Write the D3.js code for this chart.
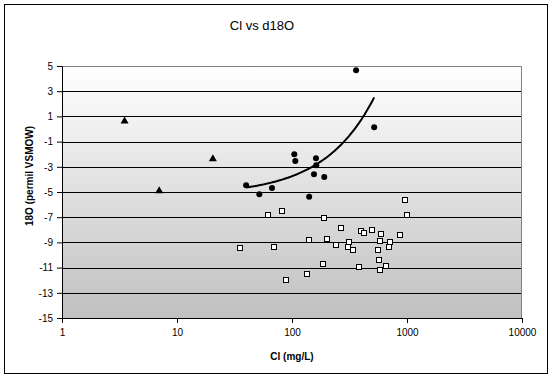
<!DOCTYPE html>
<html>
<head>
<meta charset="utf-8">
<script src="https://cdn.jsdelivr.net/npm/d3@7"></script>
<style>
  body { margin: 0; background: #fff; }
  text { font-family: Arial, "Liberation Sans", sans-serif; fill: #000; }
</style>
</head>
<body>
<svg width="553" height="381"></svg>
<script>
// triangles
let triX = [3.5, 7.0, 20.5];
let triY = [0.63, -4.92, -2.38];

// filled circles (trendline is fitted to these)
let circX = [39.9, 52, 67, 104.7, 106.8, 141, 161.6, 162.6, 155.3, 190.8, 361, 518.4];
let circY = [-4.47, -5.18, -4.68, -2.01, -2.54, -5.37, -2.33, -2.88, -3.6, -3.81, 4.66, 0.13];

// open squares
let sqX = [62.2, 81.9, 190.8, 35.1, 69.4, 141.3, 202.6, 187, 134.2, 89.2,
           952, 1003, 268, 397, 425, 495, 593, 872, 241, 314.6,
           304.6, 338.6, 577.8, 714, 691.5, 555, 566, 655, 384, 581];
let sqY = [-6.8, -6.53, -7.09, -9.44, -9.34, -8.79, -8.71, -10.69, -11.53, -11.96,
           -5.61, -6.8, -7.88, -8.1, -8.23, -8.02, -8.36, -8.44, -9.21, -8.99,
           -9.37, -9.63, -8.87, -8.99, -9.37, -9.63, -10.42, -10.85, -10.98, -11.21];

let xTicks = [1, 10, 100, 1000, 10000];
let yTicks = [5, 3, 1, -1, -3, -5, -7, -9, -11, -13, -15];

let svg = d3.select("svg"),
    margin = {top: 66, right: 31, bottom: 63, left: 62},
    width = +svg.attr("width") - margin.left - margin.right,
    height = +svg.attr("height") - margin.top - margin.bottom;

// outer chart border
svg.append("rect")
    .attr("x", 4.5).attr("y", 4.5)
    .attr("width", 543).attr("height", 369)
    .attr("fill", "#fff")
    .attr("stroke", "#000");

let defs = svg.append("defs");
let grad = defs.append("linearGradient")
    .attr("id", "bg")
    .attr("x1", 0).attr("y1", 0).attr("x2", 0).attr("y2", 1);
grad.append("stop").attr("offset", "0%").attr("stop-color", "#ffffff");
grad.append("stop").attr("offset", "100%").attr("stop-color", "#c0c0c0");

let x = d3.scaleLog().domain([1, 10000]).range([0, width]),
    y = d3.scaleLinear().domain([-15, 5]).range([height, 0]);

let g = svg.append("g")
    .attr("transform", "translate(" + margin.left + "," + margin.top + ")");

g.append("rect")
    .attr("width", width).attr("height", height)
    .attr("fill", "url(#bg)");

// gridlines
g.selectAll(".grid")
    .data(yTicks.filter(function(d) { return d > -15 && d < 5; }))
    .enter().append("line")
    .attr("x1", 0).attr("x2", width)
    .attr("y1", function(d) { return Math.round(y(d)) + 0.5; })
    .attr("y2", function(d) { return Math.round(y(d)) + 0.5; })
    .attr("stroke", "#000");

// plot border top/right
g.append("path")
    .attr("d", "M0,0.5H" + (width - 0.5) + "V" + height)
    .attr("fill", "none")
    .attr("stroke", "#808080");

let xAxis = g.append("g")
    .attr("transform", "translate(0," + height + ")")
    .call(d3.axisBottom(x).tickValues(xTicks).tickFormat(d3.format("d")).tickSize(5).tickPadding(6));
let yAxis = g.append("g")
    .call(d3.axisLeft(y).tickValues(yTicks).tickSize(5).tickPadding(4));

[xAxis, yAxis].forEach(function(a) {
  a.select(".domain").attr("stroke", "#000");
  a.selectAll("line").attr("stroke", "#000");
  a.selectAll("text").style("font-size", "10px").attr("fill", "#000");
});
yAxis.selectAll("text").text(function(d) { return d < 0 ? "-" + Math.abs(d) : d; });

// linear trendline over circles
let mx = d3.mean(circX), my = d3.mean(circY);
let sxy = d3.sum(circX, function(d, i) { return (d - mx) * (circY[i] - my); });
let sxx = d3.sum(circX, function(d) { return (d - mx) * (d - mx); });
let slope = sxy / sxx, icpt = my - slope * mx;
let xmin = d3.min(circX), xmax = d3.max(circX);
let trend = d3.range(0, 81).map(function(i) {
  let xv = Math.exp(Math.log(xmin) + (Math.log(xmax) - Math.log(xmin)) * i / 80);
  return [xv, icpt + slope * xv];
});

g.selectAll(".tri")
    .data(triX)
    .enter().append("path")
    .attr("d", d3.symbol().type(d3.symbolTriangle).size(28))
    .attr("transform", function(d, i) { return "translate(" + x(d) + "," + y(triY[i]) + ")"; })
    .attr("fill", "#000");

g.selectAll(".sq")
    .data(sqX)
    .enter().append("rect")
    .attr("x", function(d) { return Math.round(x(d)) - 3 + 0.5; })
    .attr("y", function(d, i) { return Math.round(y(sqY[i])) - 3 + 0.5; })
    .attr("width", 5).attr("height", 5)
    .attr("fill", "#fff")
    .attr("stroke", "#000");

g.selectAll(".circ")
    .data(circX)
    .enter().append("circle")
    .attr("cx", function(d) { return x(d); })
    .attr("cy", function(d, i) { return y(circY[i]); })
    .attr("r", 3)
    .attr("fill", "#000");

g.append("path")
    .datum(trend)
    .attr("d", d3.line().x(function(d) { return x(d[0]); }).y(function(d) { return y(d[1]); }))
    .attr("fill", "none")
    .attr("stroke", "#000")
    .attr("stroke-width", 2);

// titles
svg.append("text")
    .attr("x", 262).attr("y", 30)
    .attr("text-anchor", "middle")
    .style("font-size", "13px")
    .text("Cl vs d18O");

svg.append("text")
    .attr("x", 292).attr("y", 360)
    .attr("text-anchor", "middle")
    .style("font-size", "10px").style("font-weight", "bold")
    .text("Cl (mg/L)");

svg.append("text")
    .attr("transform", "translate(33,176) rotate(-90)")
    .attr("text-anchor", "middle")
    .style("font-size", "10px").style("font-weight", "bold")
    .text("18O (permil VSMOW)");
</script>
</body>
</html>
